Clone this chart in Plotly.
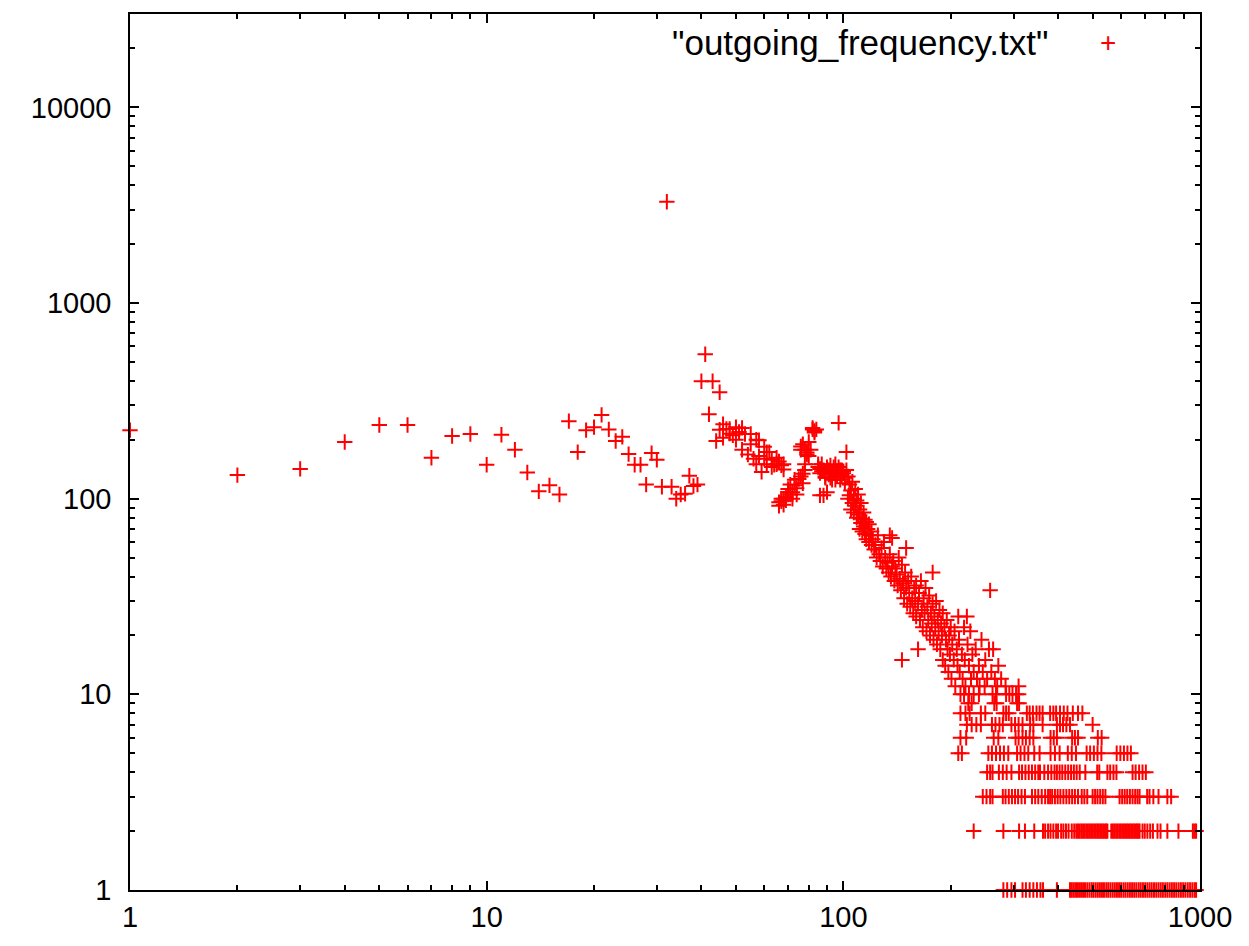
import plotly.graph_objects as go

head_x = [1, 2, 3, 4, 5, 6, 7, 8, 9, 10, 11, 12, 13, 14, 15, 16, 17, 18, 19, 20,
          21, 22, 23, 24, 25, 26, 27, 28, 29, 30, 31, 32, 33, 34, 35, 36, 37, 38, 39]
head_y = [224, 132, 142, 195, 238, 238, 162, 209, 214, 149, 212, 178, 136, 109, 117, 105, 249, 173, 224, 232,
          268, 226, 197, 207, 169, 149, 149, 118, 171, 158, 115, 3290, 115, 100, 105, 106, 131, 116, 118]

# the hump between 40 and 100
hump = [(40, 398), (41, 547), (42, 270), (43, 398), (44, 197), (45, 350), (45, 225), (46, 205), (46, 240),
        (47, 227), (48, 227), (48, 215), (49, 211), (50, 232), (50, 200), (51, 219), (52, 178), (52, 230),
        (53, 214), (54, 168), (55, 214), (55, 190), (56, 160), (57, 150), (57, 200), (58, 199), (58, 165),
        (59, 137), (60, 184), (60, 160), (61, 173), (61, 150), (62, 173), (63, 158), (63, 145), (64, 149),
        (65, 150), (65, 162), (66, 155), (67, 148), (68, 141), (68, 150),
        (66, 96), (66, 92), (67, 97), (67, 100), (68, 100), (68, 93), (69, 102), (69, 98), (70, 108), (70, 112),
        (71, 105), (71, 118), (72, 108), (72, 100), (73, 117), (73, 125), (74, 113), (74, 105), (75, 126),
        (76, 130), (77, 134), (77, 120), (78, 140), (78, 150),
        (76, 178), (76, 185), (77, 190), (78, 178), (79, 168), (79, 172), (80, 195), (80, 165), (81, 178),
        (82, 226), (82, 230), (83, 222), (83, 218), (84, 226),
        (85, 150), (85, 145), (86, 142), (86, 135), (86, 104), (87, 138), (87, 150), (88, 104), (88, 140),
        (89, 130), (89, 128), (90, 108), (90, 145), (91, 140), (91, 133), (92, 128), (92, 148), (93, 135),
        (93, 125), (94, 145), (94, 138), (95, 125), (95, 150), (96, 138), (96, 130), (97, 244), (97, 145),
        (98, 140), (98, 125), (99, 132), (99, 140), (100, 138), (100, 135), (101, 120), (101, 128),
        (102, 173), (102, 140)]

# the falling tail from 100 to about 500
tail = [(103, 100), (103, 130), (104, 104), (104, 118), (105, 88), (105, 110), (106, 95), (106, 122),
        (107, 85), (107, 100), (108, 92), (108, 112), (109, 80), (109, 98), (110, 83), (110, 105),
        (111, 88), (111, 70), (112, 75), (112, 95), (113, 79), (113, 68), (114, 72), (114, 85), (115, 66),
        (115, 78), (116, 76), (116, 62), (117, 70), (118, 60), (118, 74), (119, 65), (120, 58), (120, 68),
        (121, 62), (122, 55), (123, 58), (124, 50), (125, 65), (126, 52), (127, 48), (128, 56), (129, 45),
        (130, 60), (131, 50), (132, 44), (133, 47), (134, 42), (135, 65), (135, 52), (136, 40), (137, 63),
        (137, 45), (138, 48), (139, 38), (140, 44), (141, 41), (142, 36), (143, 50), (144, 39), (145, 34),
        (146, 15), (146, 46), (147, 37), (148, 31), (149, 42), (150, 56), (150, 35), (151, 29), (152, 38),
        (153, 33), (154, 28), (155, 40), (156, 31), (157, 26), (158, 35), (159, 30), (160, 25), (160, 36),
        (162, 17), (162, 29), (163, 33), (164, 24), (165, 38), (166, 27), (167, 22), (168, 31), (169, 26),
        (170, 35), (171, 21), (172, 28), (173, 24), (174, 32), (175, 20), (176, 26), (177, 23), (178, 42),
        (178, 29), (179, 19), (180, 25), (181, 22), (182, 30), (183, 18), (184, 24), (185, 21), (186, 27),
        (187, 17), (188, 23), (189, 20), (190, 26), (190, 15), (192, 22), (193, 14), (194, 19), (195, 24),
        (196, 17), (197, 13), (198, 20), (199, 16), (200, 22), (201, 12), (202, 18), (204, 15), (205, 21),
        (206, 11), (208, 17), (209, 14), (210, 25), (211, 19), (212, 13), (215, 16), (216, 12), (218, 22),
        (219, 15), (220, 11), (222, 25), (223, 18), (225, 14), (227, 21), (228, 12), (230, 16), (232, 13),
        (235, 17), (237, 12), (240, 14), (241, 11), (244, 19), (246, 13), (249, 11), (250, 15), (253, 12),
        (256, 17), (258, 34), (260, 13), (263, 17), (266, 12), (270, 11), (272, 14), (277, 12), (285, 11),
        (310, 11)]

# lower values repeat at many x, one list per frequency
tens_x = [213, 218, 225, 232, 240, 262, 268, 286, 292, 298, 305, 310]
nines_x = [224, 229, 265, 269, 307, 311]
eights_x = [213, 220, 226, 243, 250, 281, 286, 291, 327, 333, 340, 348, 355, 362, 380, 388, 395, 405,
            415, 425, 440, 455, 468]
sevens_x = [222, 229, 236, 243, 261, 267, 274, 280, 296, 303, 310, 318, 334, 341, 362, 397, 405, 413,
            422, 432, 500]
sixes_x = [213, 221, 264, 272, 304, 310, 318, 325, 333, 341, 381, 389, 397, 438, 446, 455, 517, 530]
fives_x = [210, 215, 255, 261, 268, 275, 282, 290, 307, 314, 322, 330, 343, 355, 381, 392, 404, 426,
           437, 449, 481, 492, 504, 516, 529, 584, 598, 612, 626, 640]
fours_x = [253, 258, 262, 273, 280, 287, 296, 311, 317, 324, 331, 338, 345, 352, 356, 366, 375, 383,
           391, 397, 404, 411, 419, 427, 435, 443, 451, 460, 477, 515, 522, 550, 560, 572, 583, 647,
           660, 675, 690, 705]
threes_x = [246, 252, 258, 262, 280, 285, 291, 297, 303, 309, 316, 323, 338, 345, 352, 360, 368, 375,
            380, 385, 392, 399, 406, 414, 422, 430, 438, 446, 455, 466, 474, 483, 500, 508, 516, 525,
            534, 543, 595, 605, 615, 625, 636, 647, 658, 668, 677, 711, 722, 740, 765, 810, 830]
twos_x = [232, 281, 311, 323, 343, 363, 368, 375, 381, 388, 395, 400, 408, 414, 421, 428, 437, 444,
          450, 455, 460, 465, 470, 475, 480, 485, 490, 495, 500, 505, 510, 515, 520, 525, 530, 535,
          540, 545, 550, 564, 570, 576, 582, 588, 594, 600, 606, 612, 618, 624, 630, 636, 642, 648,
          654, 660, 666, 672, 677, 690, 700, 712, 725, 738, 760, 775, 810, 870, 955, 965, 975]
ones_x = [281, 288, 296, 303, 318, 325, 333, 341, 349, 357, 363, 397, 432, 437, 442, 447, 452, 458,
          464, 470, 476, 483, 490, 497, 503, 510, 517, 524, 531, 538, 546, 553, 561, 569, 577, 585,
          593, 601, 610, 618, 627, 636, 645, 654, 663, 673, 682, 692, 702, 712, 722, 732, 743, 754,
          765, 776, 787, 799, 810, 822, 834, 846, 858, 871, 884, 897, 910, 924, 938, 952, 966, 975]

xs = head_x + [p[0] for p in hump] + [p[0] for p in tail]
ys = head_y + [p[1] for p in hump] + [p[1] for p in tail]
for freq, band in [(10, tens_x), (9, nines_x), (8, eights_x), (7, sevens_x), (6, sixes_x),
                   (5, fives_x), (4, fours_x), (3, threes_x), (2, twos_x), (1, ones_x)]:
    xs += band
    ys += [freq] * len(band)

fig = go.Figure()
fig.add_trace(go.Scatter(
    x=xs, y=ys, mode='markers', name='"outgoing_frequency.txt"', cliponaxis=False,
    marker=dict(symbol='cross-thin', size=11, line=dict(color='#ff0000', width=2), color='#ff0000')
))

minor_vals = [m * 10 ** e for e in range(5) for m in range(2, 10)]
axis_style = dict(
    type='log', showline=True, linecolor='black', linewidth=1.5, mirror='ticks',
    ticks='inside', ticklen=9, tickwidth=1.5, tickcolor='black', showgrid=False, zeroline=False,
    minor=dict(ticks='inside', ticklen=5, tickwidth=1.5, tickcolor='black', tickvals=minor_vals, showgrid=False),
)
fig.update_xaxes(range=[0, 3], tickvals=[1, 10, 100, 1000], ticktext=['1', '10', '100', '1000'],
                 ticklabelstandoff=0, **axis_style)
fig.update_yaxes(range=[0, 4.4771], tickvals=[1, 10, 100, 1000, 10000],
                 ticktext=['1', '10', '100', '1000', '10000'], ticklabelstandoff=11, **axis_style)

# gnuplot style key: text on the left, sample on the right
fig.add_annotation(xref='paper', yref='paper', x=0.8598, y=0.968, text='"outgoing_frequency.txt"',
                   showarrow=False, xanchor='right', yanchor='middle', font=dict(size=35, color='black'))
fig.add_annotation(xref='paper', yref='paper', x=0.914, y=0.968, text='+',
                   showarrow=False, xanchor='center', yanchor='middle', font=dict(size=28, color='#ff0000'))

# the page body adds 8px, so margins are shifted by that much
fig.update_layout(
    width=1249, height=946,
    margin=dict(l=122, r=57, t=4, b=64),
    paper_bgcolor='white', plot_bgcolor='white',
    showlegend=False,
    font=dict(family='Liberation Sans, Arial, sans-serif', size=29, color='black'),
)

fig.write_html("out.html")
